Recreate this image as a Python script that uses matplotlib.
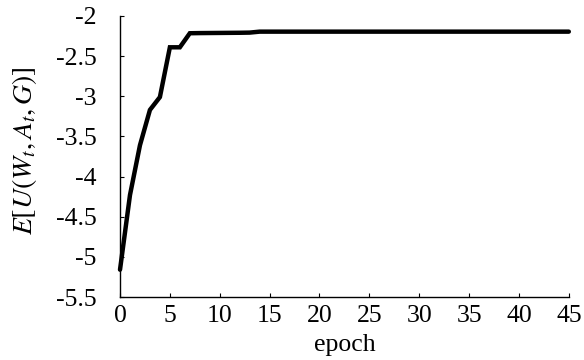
import matplotlib
matplotlib.use("Agg")
import matplotlib.pyplot as plt

epochs = list(range(0, 46))
head_values = [-5.16, -4.23, -3.61, -3.17, -3.01, -2.39, -2.39,
               -2.215, -2.213, -2.212, -2.211, -2.210, -2.209, -2.207]
tail_values = [-2.195] * (46 - len(head_values))
utility = head_values + tail_values

x_ticks = [0, 5, 10, 15, 20, 25, 30, 35, 40, 45]
y_ticks = [-5.5, -5, -4.5, -4, -3.5, -3, -2.5, -2]
y_ticklabels = ["-5.5", "-5", "-4.5", "-4", "-3.5", "-3", "-2.5", "-2"]

plt.rcParams['font.family'] = ['Liberation Serif', 'DejaVu Serif']
plt.rcParams['mathtext.fontset'] = 'stix'

fig = plt.figure(figsize=(5.84, 3.6), dpi=100)
ax = fig.add_axes([0.2055, 0.175, 0.974 - 0.2055, 0.9556 - 0.175])
ax.plot(epochs, utility, color='black', linewidth=3.2, solid_capstyle='round',
        solid_joinstyle='miter', clip_on=False)
ax.set_xlim(0, 45)
ax.set_ylim(-5.5, -2)
ax.set_xticks(x_ticks)
ax.set_xticklabels([str(t) for t in x_ticks])
ax.set_yticks(y_ticks)
ax.set_yticklabels(y_ticklabels)
for s in ['top', 'right']:
    ax.spines[s].set_visible(False)
for s in ['left', 'bottom']:
    ax.spines[s].set_linewidth(1.0)
ax.tick_params(axis='both', direction='in', length=3, width=0.8, labelsize=18.5)
ax.tick_params(axis='x', pad=6)
ax.tick_params(axis='y', pad=17)
ax.set_xlabel('epoch', fontsize=18.5, labelpad=5)
ax.set_ylabel(r'$E[U(W_t, A_t, G)]$', fontsize=20)
ax.yaxis.set_label_coords(-0.18, 0.52)
fig.savefig('out.png', dpi=100)
